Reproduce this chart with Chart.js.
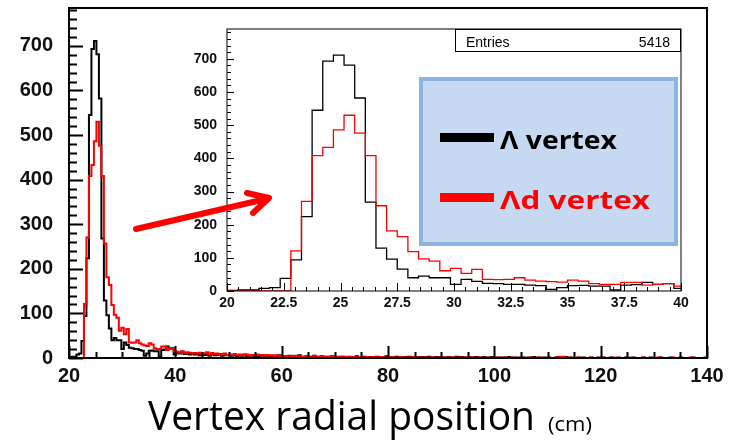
<!DOCTYPE html>
<html lang="en">
<head>
<meta charset="UTF-8" />
<title>Vertex radial position</title>
<script src="https://cdn.jsdelivr.net/npm/chart.js"></script>
<style>
  body { margin: 0; background: #fff; }
  .wrap { position: relative; width: 734px; height: 442px; }
  .wrap canvas { position: absolute; left: 0; top: 0; }
</style>
</head>
<body>
<div class="wrap">
  <canvas id="main" width="734" height="442"></canvas>
  <canvas id="inset" width="734" height="442"></canvas>
</div>
<script>
// histogram binning: 256 bins from 20 to 140 cm
const binLo = 20, binHi = 140, nBins = 256;

// counts per bin, Lambda vertex (black)
const lambdaCounts = [
  2, 3, 3, 8, 10, 38, 94, 224, 545, 693, 711, 681, 582, 268, 129, 96, 66, 40, 45, 40, 40, 20, 35, 29,
  23, 22, 20, 20, 18, 16, 5, 10, 16, 17, 15, 15, 3, 18, 19, 26, 20, 22, 8,
  12, 10, 14, 9, 11, 8, 10, 8, 9, 6, 10, 7, 8, 5, 9, 6, 7, 8, 5, 6, 7,
  6, 5, 7, 4, 6, 5, 8, 4, 5, 6, 3, 5, 4, 6, 5, 7, 3, 4, 5, 4, 6, 3,
  4, 3, 5, 2, 4, 3, 6, 2, 3, 4, 2, 3, 5, 2, 3, 4, 2, 3, 2, 4, 3, 2, 3, 2, 3,
  2, 3, 1, 2, 4, 1, 2, 3, 1, 2, 2, 1, 3, 2, 1, 2, 4, 1, 2, 1,
  3, 1, 2, 2, 1, 3, 1, 2, 1, 2, 1, 2, 1, 3, 1, 1, 2, 1, 2, 1,
  1, 2, 1, 1, 3, 1, 2, 1, 1, 2, 1, 1, 2, 1, 1, 2, 1, 1, 2, 1,
  1, 0, 1, 1, 0, 2, 1, 0, 1, 0, 1, 1, 0, 1, 0, 2, 0, 1, 0, 1,
  0, 1, 0, 0, 1, 0, 1, 0, 2, 0, 1, 0, 0, 1, 0, 1, 0, 0, 1, 0,
  0, 1, 0, 1, 0, 0, 1, 0, 0, 1, 0, 0, 1, 0, 0, 1, 0, 0, 0, 1,
  0, 0, 1, 0, 0, 0, 1, 0, 0, 0, 1, 0, 0, 0, 1, 0, 0, 0, 0, 1,
  0, 0, 0, 0, 1
];

// counts per bin, Lambda-d vertex (red)
const lambdaDCounts = [
  0, 0, 0, 0, 0, 0, 121, 270, 408, 433, 486, 530, 476, 408, 257, 181, 164, 119, 97, 90, 61, 68, 53, 65,
  35, 34, 35, 40, 33, 30, 28, 27, 33, 30, 22, 20, 20, 26, 26, 18, 20, 22, 15,
  14, 12, 15, 11, 13, 12, 10, 11, 10, 12, 9, 10, 13, 8, 11, 9, 10, 8, 9, 10, 7,
  8, 7, 9, 6, 8, 7, 6, 8, 5, 7, 6, 8, 7, 5, 6, 7, 5, 6, 4, 6, 5, 4,
  4, 3, 4, 3, 5, 3, 4, 2, 3, 4, 3, 2, 4, 3, 2, 3, 3, 2, 3, 2, 3, 2, 2, 3, 2,
  2, 1, 2, 2, 1, 2, 1, 1, 2, 1, 1, 2, 1, 1, 2, 1, 1, 1, 2, 1,
  1, 1, 2, 1, 1, 1, 1, 2, 1, 1, 1, 1, 1, 0, 1, 1, 1, 0, 1, 1,
  0, 1, 1, 0, 1, 0, 1, 1, 0, 1, 0, 1, 0, 1, 0, 1, 0, 0, 1, 0,
  0, 1, 0, 0, 1, 0, 0, 1, 0, 0, 1, 0, 0, 0, 1, 0, 0, 1, 0, 0,
  0, 1, 0, 0, 0, 3, 3, 3, 0, 1, 0, 0, 0, 1, 0, 0, 0, 0, 1, 0,
  0, 0, 1, 0, 0, 0, 0, 1, 0, 0, 0, 0, 0, 1, 0, 0, 0, 0, 0, 1,
  0, 0, 0, 0, 0, 1, 0, 0, 0, 0, 0, 1, 0, 0, 0, 0, 0, 0, 1, 0,
  0, 0, 0, 0, 0
];

// tick labels
const mainXTicks = [20, 40, 60, 80, 100, 120, 140];
const mainYTicks = [0, 100, 200, 300, 400, 500, 600, 700];
const insetXTicks = [20, 22.5, 25, 27.5, 30, 32.5, 35, 37.5, 40];
const insetYTicks = [0, 100, 200, 300, 400, 500, 600, 700];

const entries = 5418;
const seriesNames = ['Λ vertex', 'Λd vertex'];

// left bin edges -> step points
function histPoints(counts) {
  const w = (binHi - binLo) / nBins;
  const pts = [{ x: binLo, y: 0 }];
  for (let k = 0; k < nBins; k++) pts.push({ x: binLo + k * w, y: counts[k] || 0 });
  pts.push({ x: binHi, y: 0 });
  return pts;
}

function datasets(lw) {
  return [
    { data: histPoints(lambdaDCounts), borderColor: '#ff0000', borderWidth: lw,
      stepped: true, pointRadius: 0, fill: false },
    { data: histPoints(lambdaCounts), borderColor: '#000000', borderWidth: lw,
      stepped: true, pointRadius: 0, fill: false }
  ];
}

function fixBox(w, h) {
  return function (scale) {
    if (w != null) scale.width = w;
    if (h != null) scale.height = h;
    scale.paddingTop = 0; scale.paddingBottom = 0;
    scale.paddingLeft = 0; scale.paddingRight = 0;
  };
}

function useTicks(list) {
  return function (scale) { scale.ticks = list.map(v => ({ value: v })); };
}

// inward ROOT style ticks + frame
function frameAndTicks(t) {
  return {
    id: 'frameTicks',
    afterDatasetsDraw(chart) {
      const { ctx, chartArea: a, scales: { x, y } } = chart;
      ctx.save();
      ctx.strokeStyle = '#000';
      ctx.lineWidth = t.lw;
      ctx.beginPath();
      for (let i = 0; x.min + i * t.xMinor <= x.max + 1e-9; i++) {
        const v = x.min + i * t.xMinor;
        const px = Math.round(x.getPixelForValue(v)) + 0.5;
        const major = Math.abs(v / t.xMajor - Math.round(v / t.xMajor)) < 1e-6;
        ctx.moveTo(px, a.bottom);
        ctx.lineTo(px, a.bottom - (major ? t.xMajorLen : t.xMinorLen));
      }
      for (let i = 0; i * t.yMinor <= y.max; i++) {
        const v = i * t.yMinor;
        const py = Math.round(y.getPixelForValue(v)) + 0.5;
        const major = v % t.yMajor === 0;
        ctx.moveTo(a.left, py);
        ctx.lineTo(a.left + (major ? t.yMajorLen : t.yMinorLen), py);
      }
      ctx.stroke();
      ctx.lineWidth = t.frame;
      ctx.strokeRect(a.left, a.top, a.right - a.left, a.bottom - a.top);
      ctx.restore();
    }
  };
}

function fitText(ctx, text, x, base, width, font, color) {
  ctx.save();
  ctx.font = font;
  ctx.fillStyle = color;
  ctx.textBaseline = 'alphabetic';
  ctx.textAlign = 'left';
  const m = ctx.measureText(text).width;
  ctx.translate(x, base);
  ctx.scale(width / m, 1);
  ctx.fillText(text, 0, 0);
  ctx.restore();
}

const axisTitle = {
  id: 'axisTitle',
  afterDraw(chart) {
    const ctx = chart.ctx;
    fitText(ctx, 'Vertex radial position', 148, 430, 387, '40px "Open Sans"', '#000');
    fitText(ctx, '(cm)', 548, 431, 44, '20px "Open Sans"', '#000');
  }
};

const insetDecor = {
  id: 'insetDecor',
  afterDraw(chart) {
    const ctx = chart.ctx;
    ctx.save();
    // stats box
    ctx.fillStyle = '#fff';
    ctx.fillRect(455, 29, 226, 23);
    ctx.strokeStyle = '#000';
    ctx.lineWidth = 1;
    ctx.strokeRect(455.5, 29.5, 225, 22);
    ctx.fillStyle = '#000';
    ctx.font = '14px "Liberation Sans"';
    ctx.textBaseline = 'alphabetic';
    ctx.textAlign = 'left';
    ctx.fillText('Entries', 466, 47);
    ctx.textAlign = 'right';
    ctx.fillText(String(entries), 670, 47);

    // legend
    ctx.fillStyle = '#c6d9f1';
    ctx.fillRect(421, 79, 255, 165);
    ctx.strokeStyle = '#8eb4e3';
    ctx.lineWidth = 4;
    ctx.strokeRect(421, 79, 255, 165);
    ctx.fillStyle = '#000';
    ctx.fillRect(440, 133, 54, 9);
    ctx.fillStyle = '#ff0000';
    ctx.fillRect(440, 193, 54, 9);
    ctx.restore();
    fitText(ctx, seriesNames[0], 500, 149, 117, 'bold 25px "Open Sans"', '#000');
    fitText(ctx, seriesNames[1], 500, 209, 150, 'bold 25px "Open Sans"', '#ff0000');

    // arrow
    ctx.save();
    ctx.strokeStyle = '#ff0000';
    ctx.lineWidth = 6;
    ctx.lineCap = 'round';
    ctx.lineJoin = 'round';
    ctx.beginPath();
    ctx.moveTo(136, 229);
    ctx.lineTo(268, 198.5);
    ctx.moveTo(247, 193);
    ctx.lineTo(269, 198);
    ctx.lineTo(253, 213);
    ctx.stroke();
    ctx.restore();
  }
};

const labelFont = (size) => ({ family: '"Liberation Sans", Arial, sans-serif', size: size, weight: 'bold' });

new Chart(document.getElementById('main'), {
  type: 'line',
  data: { datasets: datasets(2) },
  options: {
    responsive: false,
    animation: false,
    devicePixelRatio: 1,
    layout: { padding: { left: 0, top: 8, right: 27, bottom: 0 } },
    plugins: { legend: { display: false }, tooltip: { enabled: false } },
    scales: {
      x: {
        type: 'linear', min: binLo, max: binHi,
        grid: { display: false, drawTicks: false },
        border: { display: false },
        afterBuildTicks: useTicks(mainXTicks),
        afterFit: fixBox(null, 84),
        ticks: { font: labelFont(20), color: '#111', padding: 6, maxRotation: 0 }
      },
      y: {
        min: 0, max: 785,
        grid: { display: false, drawTicks: false },
        border: { display: false },
        afterBuildTicks: useTicks(mainYTicks),
        afterFit: fixBox(69, null),
        ticks: { font: labelFont(20), color: '#111', padding: 16 }
      }
    }
  },
  plugins: [frameAndTicks({ lw: 2, frame: 2, xMinor: 5, xMajor: 20, xMajorLen: 12, xMinorLen: 6,
    yMinor: 20, yMajor: 100, yMajorLen: 14, yMinorLen: 8 }), axisTitle]
});

new Chart(document.getElementById('inset'), {
  type: 'line',
  data: { datasets: datasets(1.3) },
  options: {
    responsive: false,
    animation: false,
    devicePixelRatio: 1,
    layout: { padding: { left: 167, top: 29, right: 53, bottom: 121 } },
    plugins: { legend: { display: false }, tooltip: { enabled: false } },
    scales: {
      x: {
        type: 'linear', min: 20, max: 40,
        grid: { display: false, drawTicks: false },
        border: { display: false },
        afterBuildTicks: useTicks(insetXTicks),
        afterFit: fixBox(null, 30),
        ticks: { font: labelFont(14), color: '#111', padding: 4, maxRotation: 0 }
      },
      y: {
        min: 0, max: 790,
        grid: { display: false, drawTicks: false },
        border: { display: false },
        afterBuildTicks: useTicks(insetYTicks),
        afterFit: fixBox(60, null),
        ticks: { font: labelFont(14), color: '#111', padding: 10 }
      }
    }
  },
  plugins: [frameAndTicks({ lw: 1, frame: 1, xMinor: 0.5, xMajor: 2.5, xMajorLen: 8, xMinorLen: 4,
    yMinor: 20, yMajor: 100, yMajorLen: 7, yMinorLen: 4 }), insetDecor]
});
</script>
</body>
</html>
